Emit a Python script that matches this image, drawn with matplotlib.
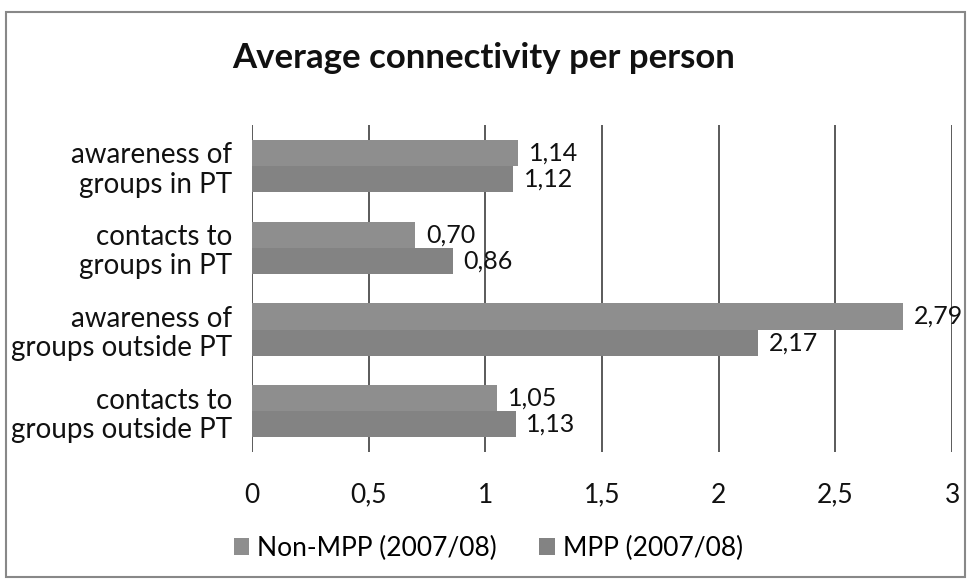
import matplotlib.pyplot as plt
import numpy as np
from matplotlib.patches import Rectangle

plt.rcParams['font.family'] = ['Lato', 'DejaVu Sans']

categories = ['awareness of\ngroups in PT', 'contacts to\ngroups in PT',
              'awareness of\ngroups outside PT', 'contacts to\ngroups outside PT']
non_mpp = [1.14, 0.70, 2.79, 1.05]
mpp = [1.12, 0.86, 2.17, 1.13]
series_names = ['Non-MPP (2007/08)', 'MPP (2007/08)']
xticks = [0, 0.5, 1, 1.5, 2, 2.5, 3]

fig = plt.figure(figsize=(9.67, 5.79), dpi=100)
ax = fig.add_axes([0.2606, 0.219, 0.724, 0.565])

y = np.arange(len(categories))
h = 0.32
b1 = ax.barh(y - h / 2, non_mpp, height=h, color='#8e8e8e', label=series_names[0], zorder=3)
b2 = ax.barh(y + h / 2, mpp, height=h, color='#838383', label=series_names[1], zorder=3)

for bars, vals in [(b1, non_mpp), (b2, mpp)]:
    for bar, v in zip(bars, vals):
        ax.text(v + 0.045, bar.get_y() + bar.get_height() / 2, f'{v:.2f}'.replace('.', ','),
                va='center', ha='left', fontsize=18, color='#111111', zorder=4, clip_on=False)

ax.set_ylim(3.5, -0.5)
ax.set_xlim(0, 3)
ax.set_yticks(y)
ax.set_yticklabels(categories, fontsize=20, color='#111111', linespacing=1.15)
ax.set_xticks(xticks)
ax.set_xticklabels([str(t).replace('.', ',') if t % 1 else str(int(t)) for t in xticks],
                   fontsize=19, color='#111111')
ax.tick_params(axis='both', length=0)
ax.tick_params(axis='x', pad=22)
ax.tick_params(axis='y', pad=14)
for s in ax.spines.values():
    s.set_visible(False)
ax.grid(axis='x', color='#5a5a5a', linewidth=1.4, zorder=0)

fig.text(0.5, 0.9, 'Average connectivity per person', ha='center', va='center',
         fontsize=25, fontweight='bold', color='#111111')

fig.legend(loc='center', bbox_to_anchor=(0.505, 0.053), ncol=2, frameon=False,
           fontsize=19, handlelength=0.6, handleheight=0.6, handletextpad=0.3, columnspacing=1.6)

fig.patches.append(Rectangle((0.006, 0.004), 0.992, 0.975, transform=fig.transFigure,
                             fill=False, edgecolor='#888888', linewidth=1.5))

fig.savefig('out.png', dpi=100)
